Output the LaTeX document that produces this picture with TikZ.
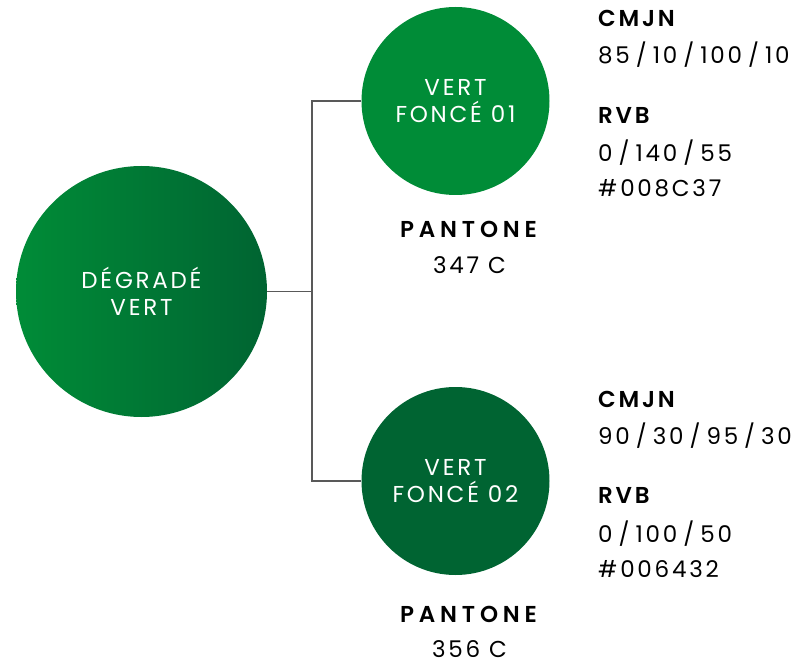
\documentclass[tikz,border=0pt]{standalone}
\usepackage{fontspec}
\setmainfont{Poppins}[LetterSpace=12,BoldFont={Poppins SemiBold}]
\newcommand\sla{\hspace{6pt}/\hspace{6pt}}
\begin{document}
\begin{tikzpicture}[x=1pt,y=-1pt,
  disc/.style={circle,inner sep=0pt,text=white,align=center,font=\fontsize{23}{27}\selectfont},
  lbl/.style={anchor=base west,inner sep=0pt,font=\fontsize{23}{27}\selectfont\bfseries},
  val/.style={anchor=base west,inner sep=0pt,font=\fontsize{23}{27}\selectfont},
  pan/.style={anchor=base,inner sep=0pt,font=\fontsize{23}{27}\selectfont},
  panlbl/.style={anchor=base,inner sep=0pt,font=\fontsize{23}{27}\selectfont\bfseries\addfontfeatures{LetterSpace=21}},
  link/.style={draw=black!65,line width=1.2pt}]
\useasboundingbox (0,0) rectangle (809,663);
\definecolor{vf1}{RGB}{0,140,55}
\definecolor{vf2}{RGB}{0,100,50}
\node[disc,minimum size=251pt,left color=vf1,right color=vf2] (big) at (141.5,291.5) {DÉGRADÉ\\VERT};
\node[disc,minimum size=188pt,fill=vf1] (c1) at (455.5,101) {VERT\\FONCÉ 01};
\node[disc,minimum size=188pt,fill=vf2] (c2) at (455.5,481) {VERT\\FONCÉ 02};
\coordinate (j) at (312,291.5);
\draw[link] (big.east) -- (j);
\draw[link] (c1.west) -| (j) |- (c2.west);
% top info
\node[lbl] (cm1) at (598,27) {CMJN};
\node[val] (cv1) at (598,64) {85\sla10\sla100\sla10};
\node[lbl] (rv1) at (598,124) {RVB};
\node[val] (rr1) at (598,162) {0\sla140\sla55};
\node[val] (hx1) at (598,197) {\#008C37};
\node[panlbl] (pt1) at (468.5,238) {PANTONE};
\node[pan] (pn1) at (469.5,274) {347 C};
% bottom info
\node[lbl] (cm2) at (598,407) {CMJN};
\node[val] (cv2) at (598,444) {90\sla30\sla95\sla30};
\node[lbl] (rv2) at (598,503) {RVB};
\node[val] (rr2) at (598,542) {0\sla100\sla50};
\node[val] (hx2) at (598,577) {\#006432};
\node[panlbl] (pt2) at (468.5,622) {PANTONE};
\node[pan] (pn2) at (469.5,657) {356 C};
\end{tikzpicture}
\end{document}
